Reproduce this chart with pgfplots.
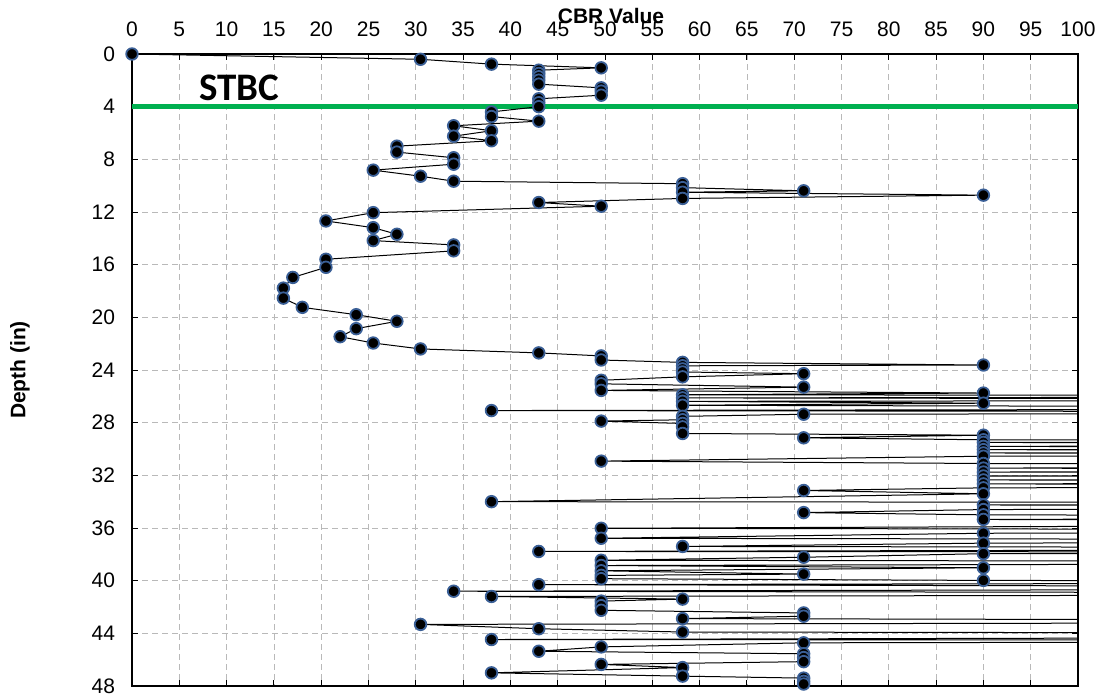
\documentclass[border=0pt]{standalone}
\usepackage{pgfplots}
\pgfplotsset{compat=1.18}
\usepackage{pgfplotstable}
\usepackage{fontspec}
\setmainfont{Liberation Sans}
\newfontfamily\calib{Carlito}
\definecolor{stbcgreen}{RGB}{0,176,80}
\definecolor{ringblue}{RGB}{58,95,150}
\pgfplotstableread{
x y
0 0
30.5 0.4
38 0.77
49.6 1.05
43 1.23
43 1.48
43 1.73
43 1.99
43 2.29
49.6 2.57
49.6 2.82
49.6 3.13
43 3.4
43 3.7
43 4.0
38 4.4
38 4.75
43 5.1
34 5.45
38 5.83
34 6.24
38 6.59
28 7.0
28 7.45
34 7.88
34 8.37
25.5 8.82
30.5 9.28
34 9.66
58.2 9.85
58.2 10.15
71 10.39
58.2 10.5
90 10.72
58.2 10.97
43 11.28
49.6 11.56
25.5 12.05
20.5 12.68
25.5 13.19
28 13.69
25.5 14.17
34 14.5
34 14.95
20.5 15.59
20.5 16.2
17 16.97
16 17.78
16 18.54
18 19.24
23.7 19.8
28 20.3
23.7 20.86
22 21.47
25.5 21.95
30.5 22.4
43 22.7
49.6 22.93
49.6 23.24
58.2 23.42
90 23.62
58.2 23.68
58.2 23.92
58.2 24.15
71 24.28
58.2 24.52
49.6 24.78
49.6 25.05
71 25.3
49.6 25.55
90 25.75
58.2 25.88
200 26.0
58.2 26.12
200 26.25
58.2 26.38
90 26.52
58.2 26.68
200 26.9
38 27.08
200 27.22
71 27.36
58.2 27.52
58.2 27.78
49.6 27.88
58.2 28.06
58.2 28.32
58.2 28.82
90 28.95
71 29.15
90 29.3
200 29.4
90 29.5
200 29.65
90 29.8
200 29.95
90 30.05
200 30.2
90 30.3
200 30.45
90 30.55
49.6 30.92
90 31.1
200 31.25
90 31.45
200 31.6
90 31.75
200 31.9
90 32.05
200 32.2
90 32.35
200 32.5
90 32.65
200 32.8
90 32.95
71 33.15
90 33.4
38 34.0
200 34.1
90 34.25
200 34.4
90 34.6
71 34.83
90 35.0
200 35.15
90 35.35
200 35.6
49.6 36.02
200 36.2
90 36.4
49.6 36.78
200 36.95
90 37.15
58.2 37.4
200 37.55
43 37.78
200 37.85
90 37.95
71 38.22
49.6 38.45
200 38.6
49.6 38.85
90 39.02
49.6 39.25
71 39.5
49.6 39.6
49.6 39.85
90 39.98
200 40.1
43 40.3
200 40.55
34 40.8
200 41.0
38 41.2
58.2 41.4
49.6 41.55
49.6 41.9
49.6 42.25
71 42.45
71 42.7
58.2 42.88
200 43.1
30.5 43.32
43 43.65
58.2 43.9
200 44.05
200 44.2
38 44.47
200 44.55
71 44.72
49.6 45.03
43 45.36
71 45.55
71 45.84
71 46.15
49.6 46.36
58.2 46.6
38 47.0
58.2 47.25
71 47.4
71 47.65
71 47.85
71 48.05
200 48.1
}\cbr
\begin{document}
\begin{tikzpicture}
\useasboundingbox (-66pt,-5pt) rectangle (485pt,343pt);
\begin{axis}[
  at={(0pt,0pt)}, anchor=south west,
  scale only axis, width=473pt, height=316pt,
  xmin=0, xmax=100, ymin=0, ymax=48, y dir=reverse,
  xtick={0,5,...,100}, ytick={0,4,...,48},
  xticklabel pos=top,
  tick label style={font=\fontsize{10.5}{12}\selectfont},
  /pgf/number format/assume math mode=true,
  xticklabel style={yshift=5pt},
  yticklabel style={xshift=-5pt},
  grid=major,
  major grid style={densely dashed, gray!55, line width=0.4pt},
  axis line style={line width=0.6pt, black},
  major tick length=3pt,
  tick style={black, line width=0.5pt},
]
\addplot[stbcgreen, line width=2.8pt, mark=none] coordinates {(0,4) (100,4)};
\addplot[black, line width=0.5pt, mark=none] table {\cbr};
\addplot[only marks, mark=*, mark size=2.9pt, mark options={draw=ringblue, fill=black, line width=0.9pt}, restrict x to domain=0:100] table {\cbr};
\node[anchor=base west, inner sep=0pt, font=\calib\bfseries\fontsize{19.5}{22}\selectfont] at (axis cs:7.1,3.5) {STBC};
\end{axis}
\node[font=\bfseries\fontsize{10.5}{12}\selectfont] at (239.5pt,335pt) {CBR Value};
\node[rotate=90, font=\bfseries\fontsize{10.5}{12}\selectfont] at (-56pt,158pt) {Depth (in)};
\end{tikzpicture}
\end{document}
